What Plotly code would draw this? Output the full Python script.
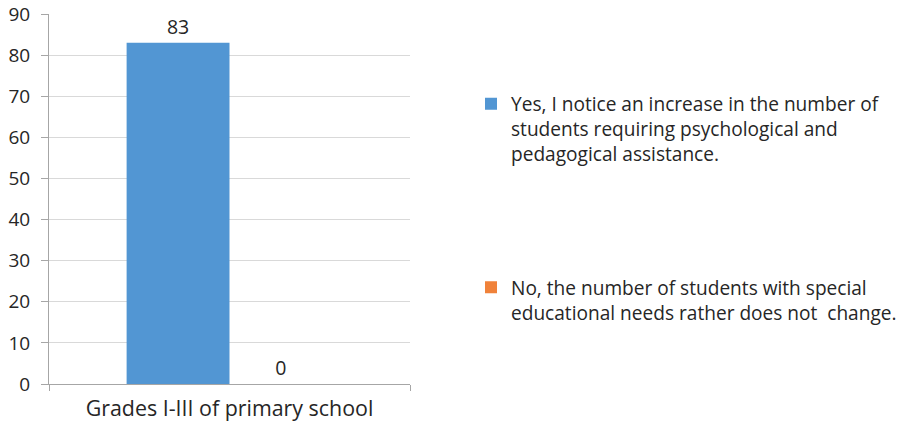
import plotly.graph_objects as go

categories = ["Grades I-III of primary school"]
series_names = [
    "Yes, I notice an increase in the number of<br>students requiring psychological and<br>pedagogical assistance.",
    "No, the number of students with special<br>educational needs rather does not  change.",
]
series_values = [[83], [0]]
series_colors = ["#5296D3", "#F0823A"]
y_ticks = list(range(0, 91, 10))

FONT = "Open Sans"
FS = 19.5
YFS = 19
LFS = 19.1
TXT = "#262626"

fig = go.Figure()
legend_ids = ["legend", "legend2"]
for i, (name, vals, col) in enumerate(zip(series_names, series_values, series_colors)):
    fig.add_trace(go.Bar(
        x=categories, y=vals, name=name, marker_color=col, marker_line_width=0,
        text=[str(v) for v in vals], textposition="outside",
        textfont=dict(family=FONT, size=FS, color=TXT),
        cliponaxis=False, legend=legend_ids[i],
    ))

leg_common = dict(
    xref="container", yref="container", xanchor="left", yanchor="top",
    font=dict(family=FONT, size=LFS, color=TXT), bgcolor="rgba(0,0,0,0)",
    itemwidth=30, valign="top",
)
fig.update_layout(
    width=912, height=422,
    margin=dict(l=49, r=502, t=14, b=38, autoexpand=False),
    paper_bgcolor="white", plot_bgcolor="white",
    barmode="group", bargap=0.43, bargroupgap=0,
    font=dict(family=FONT, size=FS, color=TXT),
    showlegend=True,
    legend=dict(x=471 / 912, y=0.799, **leg_common),
    legend2=dict(x=471 / 912, y=0.364, **leg_common),
)
fig.update_yaxes(
    range=[0, 90], tickvals=y_ticks, showgrid=True, gridcolor="#D9D9D9", gridwidth=1,
    showline=True, linecolor="#A6A6A6", ticks="outside", ticklen=7, tickcolor="#A6A6A6",
    zeroline=False, tickfont=dict(size=YFS, color=TXT), automargin=False,
    ticklabelstandoff=7, ticklabeloverflow="allow",
)
fig.update_xaxes(
    showline=True, linecolor="#A6A6A6", ticks="outside", tickson="boundaries",
    ticklen=6, tickcolor="#A6A6A6", tickfont=dict(size=21.4, color=TXT), automargin=False,
    ticklabelstandoff=5, ticklabeloverflow="allow",
)
fig.write_html(
    "out.html",
    config={"displayModeBar": False},
    post_script="document.body.style.margin='0';document.body.style.overflow='hidden';",
)
